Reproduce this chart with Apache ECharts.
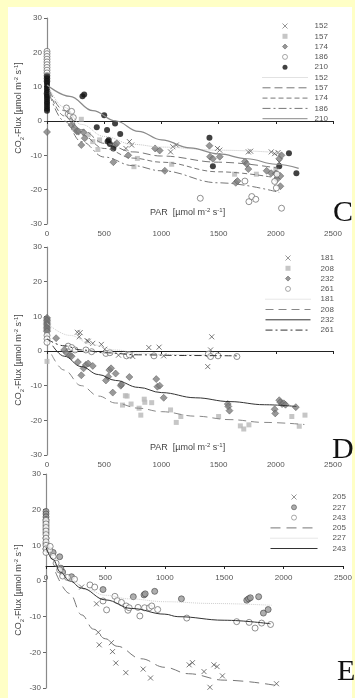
<!DOCTYPE html>
<html>
<head>
<meta charset="utf-8">
<script src="https://cdn.jsdelivr.net/npm/echarts@6/dist/echarts.min.js"></script>
<style>
  html, body { margin: 0; padding: 0; }
  #chart { width: 355px; height: 698px; }
</style>
</head>
<body>
<div id="chart"></div>
<script>
// ---- panel C : measured points [PAR, flux] ----
const c152 = [[690,-8],[720,-6],[740,-7],[1080,-9],[1100,-7.5],[1130,-7],[1490,-8],[1510,-8.5],[1760,-9],[1780,-8.8],[1960,-9],[1990,-9.5],[2020,-9.2],[2030,-12]];
const c157 = [[300,0.5],[360,-4],[400,-6],[445,-8.3],[460,-5.5],[760,-13.3],[790,-10.9],[1090,-12.6],[1640,-15.5],[1830,-15.5],[2000,-14]];
const c174 = [[0,-3.2],[215,-1.2],[240,-2],[260,-3],[275,-3.1],[300,-7],[320,-3.3],[330,-5],[580,-12],[595,-7],[610,-6.5],[710,-10],[945,-8],[985,-8.6],[1030,-14.5],[1420,-7.2],[1425,-10.4],[1450,-11],[1510,-10.4],[1650,-18],[1665,-17.5],[1730,-11.8],[1745,-12.5],[1760,-14],[1920,-14.5],[1960,-15.2],[2000,-15.3],[2010,-17],[2030,-11],[2040,-16],[2040,-19],[2050,-10]];
const c186 = [[0,20.3],[0,19.6],[0,18.8],[0,18],[0,17.2],[0,16.4],[0,15.6],[0,14.8],[0,14],[0,13.2],[0,12.4],[0,11.6],[0,8],[170,3.8],[185,2],[200,1.5],[215,2.8],[230,1],[1340,-22.5],[1730,-17.5],[1765,-23.5],[1790,-22],[1825,-22.8],[1990,-17.6],[2005,-19.5],[2010,-15.5],[2050,-25.4]];
const c210 = [[0,13],[0,12.3],[0,11.6],[0,11],[0,10.3],[0,9.6],[0,9],[0,8.3],[0,7.6],[0,7],[0,6.3],[0,5.6],[0,5],[0,4.3],[0,3.6],[0,3],[310,7.2],[325,7.7],[435,-1.8],[500,1.7],[525,-2.6],[530,-6],[540,-5.5],[550,-6.7],[580,-8],[595,-0.7],[640,-3.8],[1420,-4.9],[1450,-13.2],[2030,-13.2],[2115,-9.4],[2180,-15.2]];
// ---- panel C : fitted curves ----
const c152Fit = [[20,9.5],[150,4],[300,-1],[500,-4.5],[750,-6.8],[1000,-7.6],[1500,-8.5],[2030,-9.2]];
const c157Fit = [[20,9],[150,3],[300,-2.5],[500,-6.5],[750,-9],[1000,-10.2],[1500,-12],[2030,-13.8]];
const c174Fit = [[20,8.5],[150,1.5],[300,-4],[500,-8],[750,-10.8],[1000,-12],[1500,-14.8],[2030,-16.7]];
const c186Fit = [[20,8],[150,0],[300,-6],[500,-10.5],[750,-13],[1000,-14.5],[1500,-18],[2030,-20.8]];
const c210Fit = [[0,10.5],[200,7.2],[400,3],[600,0],[800,-3],[1000,-5.5],[1250,-7.8],[1500,-9.6],[1750,-11],[2000,-12.6],[2200,-13.8]];

// ---- panel D ----
const d181 = [[0,9],[0,7],[265,5.4],[290,5.3],[282,4.1],[350,3],[360,2.8],[400,2.2],[475,1.9],[505,0.5],[625,-1.2],[735,-0.9],[750,-1.6],[890,1],[980,1.1],[1020,-1.4],[1405,-4.5],[1430,0.3],[1440,4.1]];
const d208 = [[0,8.5],[0,7],[0,5],[0,-3],[660,-15.6],[685,-12.9],[700,-13],[735,-15.3],[805,-16.5],[820,-18.5],[850,-13.9],[855,-14.8],[915,-14.9],[1080,-17],[1130,-20.6],[1170,-18.9],[1500,-18.9],[1690,-21.6],[1720,-22.5],[1765,-21.3],[2140,-18.9],[2205,-21.7],[2255,-18.5]];
const d232 = [[0,9.6],[0,9.2],[0,8.8],[0,8.4],[0,8],[0,7.6],[0,7.2],[0,6.8],[0,6.4],[0,6],[0,5.6],[80,3.7],[150,0.3],[170,-0.5],[200,-1.2],[215,-1.5],[270,-3.2],[300,-7],[320,-5],[340,-4],[360,-3.6],[400,-4.3],[515,-8.5],[535,-7.4],[545,-5.5],[560,-5],[575,-12],[600,-6.5],[645,-10],[650,-9.6],[720,-7.5],[955,-8.1],[965,-10.3],[985,-10],[1020,-13.5],[1580,-15.3],[1585,-16],[1595,-17.2],[1990,-16.8],[1995,-18],[2030,-14.2],[2040,-14.8],[2055,-15.3],[2070,-15.1],[2085,-15.5],[2175,-16.2]];
const d261 = [[0,4.5],[0,3.5],[0,2.5],[185,1.4],[215,1],[245,0.3],[340,0.3],[390,-0.2],[515,-0.7],[550,-0.5],[695,-1.4],[720,-1.1],[935,-1.4],[1410,-0.9],[1430,-1.6],[1495,-1.4],[1660,-1.6]];
const d181Fit = [[0,8],[200,4.5],[400,1.8],[600,0.3],[800,-0.6],[1000,-1],[1450,-1.2]];
const d208Fit = [[40,-1],[150,-5.5],[300,-10],[450,-13],[600,-15],[800,-16.5],[1000,-17.5],[1300,-18.8],[1600,-19.8],[1900,-20.6],[2250,-21.2]];
const d232Fit = [[50,1.5],[150,-1.5],[300,-4.5],[450,-6.8],[600,-8.5],[800,-10.5],[1000,-12],[1300,-13.5],[1600,-14.6],[1900,-15.5],[2180,-16]];
const d261Fit = [[0,3.5],[150,1.5],[300,0.3],[500,-0.5],[800,-1.1],[1200,-1.3],[1660,-1.4]];

// ---- panel E ----
const e205 = [[0,17],[0,13],[0,11],[300,-1.7],[425,-6.4],[440,-14.4],[448,-17.9],[550,-17.3],[560,-19.8],[588,-23],[672,-25.7],[818,-24.7],[880,-27.2],[1205,-23.5],[1233,-22.9],[1330,-25.4],[1380,-29.8],[1413,-23.5],[1440,-24],[1485,-26.6],[1940,-28.8]];
const e227 = [[0,19.5],[0,18.8],[0,18],[0,17.2],[0,16.5],[0,15.5],[0,14.5],[0,13.5],[0,12],[0,10.5],[0,9],[60,8],[115,6.8],[125,3.6],[140,2.5],[215,1.2],[480,-2.4],[735,-4.4],[825,-3.9],[835,-3.6],[915,-2.9],[1140,-5],[1690,-5.4],[1705,-5],[1720,-4.7],[1790,-4.4],[1830,-9],[1870,-8]];
const e243 = [[0,17],[0,16],[0,15],[0,14],[0,13],[0,12],[0,11],[0,10],[0,9],[0,8],[30,8.7],[35,9.7],[60,6.9],[85,5],[115,3.1],[140,1.4],[180,1],[240,0.5],[370,-1.1],[410,-1.7],[480,-5.6],[510,-8.1],[580,-4.3],[600,-5.5],[635,-6],[675,-7],[690,-8.2],[700,-7.5],[775,-7.4],[790,-9.8],[830,-7.5],[870,-7.5],[890,-7],[940,-8],[1185,-10.4],[1605,-11.4],[1710,-11.6],[1760,-13.2],[1815,-11.8],[1890,-12.2]];
const e205Fit = [[80,2.5],[200,-3.5],[300,-9.5],[400,-13.5],[500,-16.2],[600,-18.3],[800,-21.8],[1000,-24.2],[1200,-26],[1500,-27.8],[1940,-29.3]];
const e227Fit = [[20,10],[100,4],[200,0.5],[350,-2.5],[500,-4],[700,-5],[1000,-5.8],[1400,-6.3],[1900,-6.8]];
const e243Fit = [[0,9.5],[60,6],[120,2.5],[200,0],[300,-2],[500,-5.3],[720,-7.7],[1000,-9.3],[1110,-10],[1500,-11],[1890,-12]];

const FONT = '"Liberation Sans", Arial, sans-serif';

// marker styles (path symbols keep their aspect in the legend)
const mk = {
  cross:   { symbol: 'path://M0,0L10,10M10,0L0,10', symbolSize: 5, itemStyle: { color: 'rgba(0,0,0,0)', borderColor: '#444', borderWidth: 0.9 } },
  square:  { symbol: 'path://M0,0L10,0L10,10L0,10Z', symbolSize: 5, itemStyle: { color: '#b8b8b8' } },
  diamond: { symbol: 'path://M5,0L10,5L5,10L0,5Z', symbolSize: 7, itemStyle: { color: '#808080', borderColor: '#555', borderWidth: 0.6 } },
  open:    { symbol: 'circle', symbolSize: 6, itemStyle: { color: '#fff', borderColor: '#666', borderWidth: 0.9 } },
  black:   { symbol: 'circle', symbolSize: 6, itemStyle: { color: '#111' } },
  grayDot: { symbol: 'circle', symbolSize: 6, itemStyle: { color: '#9a9a9a', borderColor: '#444', borderWidth: 0.8 } }
};

function pts(name, data, style, gi) {
  return Object.assign({ name: name, type: 'scatter', xAxisIndex: gi, yAxisIndex: gi, data: data, clip: false, z: 2 }, style);
}
function fit(name, data, color, type, width, gi) {
  return {
    name: name + ' ', type: 'line', xAxisIndex: gi, yAxisIndex: gi, data: data,
    smooth: 0.4, smoothMonotone: 'x', symbol: 'none', showSymbol: false, z: 3,
    lineStyle: { color: color, type: type, width: width }, itemStyle: { color: color }
  };
}

const grids = [
  { left: 47, top: 18, width: 286, height: 206 },
  { left: 47, top: 247, width: 286, height: 208 },
  { left: 46, top: 474, width: 297, height: 214 }
];

function xAx(gi, margin, extra) {
  return Object.assign({
    gridIndex: gi, type: 'value', min: 0, max: 2500, interval: 500,
    axisLine: { onZero: true, lineStyle: { color: '#222', width: 1 } },
    axisTick: { show: true, length: 3, lineStyle: { color: '#222' } },
    axisLabel: { fontSize: 8, color: '#555', fontFamily: FONT, margin: margin, formatter: function (v) { return String(v); } },
    splitLine: { show: false }
  }, extra || {});
}
function yAx(gi) {
  return {
    gridIndex: gi, type: 'value', min: -30, max: 30, interval: 10,
    axisLine: { show: true, onZero: false, lineStyle: { color: '#8a8a8a', width: 1.2 } },
    axisTick: { show: true, length: 3, lineStyle: { color: '#666' } },
    axisLabel: { fontSize: 8, color: '#555', fontFamily: FONT, margin: 5 },
    splitLine: { show: false }
  };
}

// scatter names keep their symbol; fit names (trailing space) show the bare line
function legend(left, top, width, pad, names) {
  return {
    orient: 'vertical', left: left, top: top, itemWidth: width, itemHeight: 5, itemGap: 0.3,
    selectedMode: false,
    data: names.map(function (n) {
      return n.endsWith(' ')
        ? { name: n, itemStyle: { opacity: 0 }, lineStyle: { width: 1 } }
        : { name: n, itemStyle: { borderWidth: 0.7 } };
    }),
    formatter: function (n) { return n.trim(); },
    textStyle: { fontSize: 8, color: '#555', fontFamily: FONT, lineHeight: 10, padding: [0, 0, 0, pad] }
  };
}

const rich = {
  n: { fontSize: 9, fontFamily: FONT, fill: '#444', lineHeight: 12 },
  s: { fontSize: 6, fontFamily: FONT, fill: '#444', lineHeight: 12, verticalAlign: 'bottom' },
  p: { fontSize: 6, fontFamily: FONT, fill: '#444', lineHeight: 12, verticalAlign: 'top' }
};
const yTitle = '{n|CO}{s|2}{n|-Flux [µmol m}{p|-2}{n| s}{p|-1}{n|]}';
const xTitle = '{n|PAR  [µmol m}{p|-2}{n| s}{p|-1}{n|]}';

function yLab(cy) {
  return { type: 'text', x: 19, y: cy, rotation: Math.PI / 2, z: 10,
    style: { text: yTitle, rich: rich, align: 'center', verticalAlign: 'middle' } };
}
function xLab(y) {
  return { type: 'text', x: 150, y: y, z: 10,
    style: { text: xTitle, rich: rich, align: 'left', verticalAlign: 'middle' } };
}
function letter(t, x, y) {
  return { type: 'text', x: x, y: y, z: 10,
    style: { text: t, fontSize: 30, fontFamily: '"Liberation Serif", "Times New Roman", serif', fill: '#111', align: 'left', verticalAlign: 'middle' } };
}

const option = {
  backgroundColor: '#ffffc6',
  animation: false,
  grid: grids,
  xAxis: [
    xAx(0, 6),
    xAx(1, 6),
    // panel E: the PAR axis crosses the flux axis a little above zero
    xAx(2, 8, { position: 'bottom', offset: -122, axisLine: { onZero: false, lineStyle: { color: '#222', width: 1 } } })
  ],
  yAxis: [yAx(0), yAx(1), yAx(2)],
  legend: [
    legend(257, 16, 45, 2, ['152', '157', '174', '186', '210', '152 ', '157 ', '174 ', '186 ', '210 ']),
    legend(260, 248, 45, 5, ['181', '208', '232', '261', '181 ', '208 ', '232 ', '261 ']),
    legend(265, 487, 47, 10, ['205', '227', '243', '205 ', '227 ', '243 '])
  ],
  graphic: [
    { type: 'rect', z: -10, shape: { x: 8, y: 7, width: 344, height: 691 }, style: { fill: '#fff' } },
    yLab(108), yLab(360), yLab(590),
    xLab(213), xLab(448),
    letter('C', 333, 213), letter('D', 332, 450), letter('E', 337, 672)
  ],
  series: [
    pts('152', c152, mk.cross, 0),
    pts('157', c157, mk.square, 0),
    pts('174', c174, mk.diamond, 0),
    pts('186', c186, mk.open, 0),
    pts('210', c210, mk.black, 0),
    fit('152', c152Fit, '#c4c4c4', 'dotted', 1, 0),
    fit('157', c157Fit, '#777', [8, 4], 1, 0),
    fit('174', c174Fit, '#777', [5, 3], 1, 0),
    fit('186', c186Fit, '#777', [8, 3, 2, 3], 1, 0),
    fit('210', c210Fit, '#8a8a8a', 'solid', 1.2, 0),

    pts('181', d181, mk.cross, 1),
    pts('208', d208, mk.square, 1),
    pts('232', d232, mk.diamond, 1),
    pts('261', d261, mk.open, 1),
    fit('181', d181Fit, '#cfcfcf', 'dotted', 1, 1),
    fit('208', d208Fit, '#888', [8, 5], 1, 1),
    fit('232', d232Fit, '#333', 'solid', 1, 1),
    fit('261', d261Fit, '#333', [7, 3, 2, 3], 1, 1),

    pts('205', e205, mk.cross, 2),
    pts('227', e227, mk.grayDot, 2),
    pts('243', e243, mk.open, 2),
    fit('205', e205Fit, '#777', [10, 6], 1, 2),
    fit('227', e227Fit, '#cfcfcf', 'dotted', 1, 2),
    fit('243', e243Fit, '#333', 'solid', 1, 2)
  ]
};

const chart = echarts.init(document.getElementById('chart'));
chart.setOption(option);
</script>
</body>
</html>
